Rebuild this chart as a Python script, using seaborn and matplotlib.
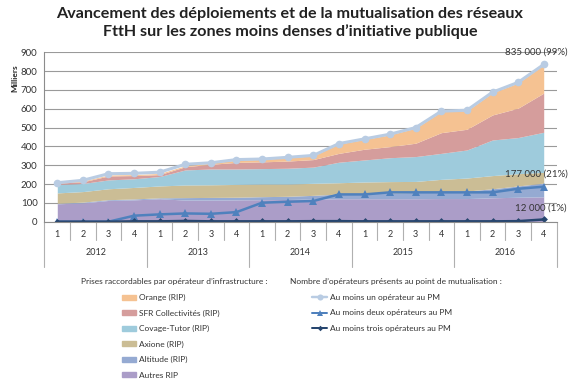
import numpy as np
import pandas as pd
import matplotlib
matplotlib.use('Agg')
import matplotlib.pyplot as plt
import matplotlib.transforms as mtransforms
from matplotlib.lines import Line2D
from matplotlib.patches import Patch
import seaborn as sns

# Données (milliers de prises)
annees = ['2012', '2013', '2014', '2015', '2016']
trimestres = ['1', '2', '3', '4'] * 5

autres_rip = [95, 100, 113, 116, 122, 115, 115, 116, 117, 118, 120, 122, 122, 122, 122, 123, 123, 127, 130, 132]
altitude = [3, 4, 4, 5, 5, 13, 14, 14, 16, 17, 20, 25, 28, 30, 33, 37, 40, 48, 60, 73]
axione = [55, 56, 58, 61, 63, 67, 67, 68, 67, 65, 64, 60, 61, 61, 59, 65, 69, 70, 65, 57]
covage = [45, 43, 47, 46, 50, 80, 84, 82, 82, 84, 86, 109, 117, 127, 132, 138, 149, 189, 192, 213]
sfr = [7, 9, 21, 17, 10, 17, 25, 35, 36, 38, 40, 47, 57, 59, 71, 110, 110, 133, 156, 208]
orange = [2, 4, 5, 5, 6, 5, 6, 12, 13, 18, 20, 50, 52, 63, 80, 112, 98, 118, 134, 150]

au_moins_un = [207, 220, 255, 257, 263, 305, 313, 330, 333, 342, 352, 415, 440, 465, 500, 587, 592, 688, 740, 835]
au_moins_deux = [0, 0, 0, 32, 39, 44, 42, 51, 101, 106, 110, 145, 145, 156, 156, 156, 156, 156, 175, 186]
au_moins_trois = [0, 0, 0, 2, 2, 4, 2, 2, 2, 2, 3, 3, 2, 2, 2, 2, 2, 2, 3, 12]

noms_aires = ['Autres RIP', 'Altitude (RIP)', 'Axione (RIP)', 'Covage-Tutor (RIP)',
              'SFR Collectivités (RIP)', 'Orange (RIP)']
couleurs_aires = ['#ab9dc8', '#95aad2', '#cbbd95', '#9ecbdc', '#d59d9c', '#f5c292']

df = pd.DataFrame({
    'x': np.arange(len(trimestres)),
    'un': au_moins_un,
    'deux': au_moins_deux,
    'trois': au_moins_trois,
})

sns.set_style('white')
plt.rcParams['font.family'] = ['Lato', 'DejaVu Sans']

fig = plt.figure(figsize=(5.8, 3.9), dpi=100)
ax = fig.add_axes([0.0767, 0.4315, 0.8828, 0.4345])

aires = ax.stackplot(df['x'], autres_rip, altitude, axione, covage, sfr, orange,
                     colors=couleurs_aires, labels=noms_aires, linewidth=0)

sns.lineplot(x='x', y='un', data=df, ax=ax, color='#b9cce3', marker='o', markersize=5.5,
             markeredgewidth=0, linewidth=2.2, label='Au moins un opérateur au PM')
sns.lineplot(x='x', y='deux', data=df, ax=ax, color='#4f81bd', marker='^', markersize=5.5,
             markeredgewidth=0, linewidth=1.8, label='Au moins deux opérateurs au PM')
sns.lineplot(x='x', y='trois', data=df, ax=ax, color='#27466f', marker='D', markersize=3.5,
             markeredgewidth=0, linewidth=1.8, label='Au moins trois opérateurs au PM')
ax.get_legend().remove()

ax.set_xlim(-0.5, 19.5)
ax.set_ylim(0, 900)
ax.set_yticks(range(0, 901, 100))
ax.yaxis.grid(True, color='#9a9a9a', linewidth=0.8)
ax.set_axisbelow(True)
for s in ['top', 'right']:
    ax.spines[s].set_visible(False)
ax.spines['left'].set_color('#8c8c8c')
ax.spines['bottom'].set_color('#8c8c8c')
ax.tick_params(axis='y', labelsize=7, colors='#333333', length=3, color='#8c8c8c', pad=2)
ax.set_xticks(df['x'])
ax.set_xticklabels(trimestres)
ax.tick_params(axis='x', labelsize=6.5, colors='#333333', length=0, pad=6)
ax.set_xlabel('')
ax.set_ylabel('')

# séparateurs de l'axe des catégories
trans = mtransforms.blended_transform_factory(ax.transData, ax.transAxes)
for k in range(21):
    xs = k - 0.5
    bas = -0.27 if k % 4 == 0 else -0.11
    ax.plot([xs, xs], [0, bas], transform=trans, color='#b0b0b0', linewidth=0.8, clip_on=False)
for j, an in enumerate(annees):
    ax.text(j * 4 + 1.5, -0.18, an, transform=trans, ha='center', va='center',
            fontsize=6.5, color='#333333')

fig.text(0.025, 0.80, 'Milliers', rotation=90, fontsize=6, fontweight='bold', ha='center', va='center')

# étiquettes de valeurs
ax.annotate('835 000 (99%)', (19, 835), xytext=(-5.5, 6), textcoords='offset points',
            ha='center', va='bottom', fontsize=7, color='#333333')
ax.annotate('177 000 (21%)', (19, 186), xytext=(-5.5, 6), textcoords='offset points',
            ha='center', va='bottom', fontsize=7, color='#333333')
ax.annotate('12 000 (1%)', (19, 12), xytext=(-2, 5), textcoords='offset points',
            ha='center', va='bottom', fontsize=7, color='#333333')

fig.text(0.5, 0.965, 'Avancement des déploiements et de la mutualisation des réseaux',
         ha='center', va='center', fontsize=11.6, fontweight='bold', color='#222222')
fig.text(0.5, 0.92, 'FttH sur les zones moins denses d\u2019initiative publique',
         ha='center', va='center', fontsize=11.6, fontweight='bold', color='#222222')

# légendes
fig.text(0.14, 0.277, 'Prises raccordables par opérateur d\u2019infrastructure :',
         fontsize=6, color='#333333', va='center')
fig.text(0.50, 0.277, 'Nombre d\u2019opérateurs présents au point de mutualisation :',
         fontsize=6, color='#333333', va='center')

h_aires = [Patch(color=c) for c in couleurs_aires][::-1]
leg1 = fig.legend(h_aires, noms_aires[::-1], loc='upper left', bbox_to_anchor=(0.198, 0.265),
                  frameon=False, fontsize=6, handlelength=1.6, handleheight=0.5,
                  labelspacing=1.0, handletextpad=0.4, labelcolor='#333333')
lignes = ax.get_lines()
h_lignes = [Line2D([0], [0], color=l.get_color(), marker=l.get_marker(), markersize=l.get_markersize() * 0.8,
                   linewidth=l.get_linewidth() * 0.8, markeredgewidth=0) for l in lignes[:3]]
leg2 = fig.legend(h_lignes, ['Au moins un opérateur au PM', 'Au moins deux opérateurs au PM',
                             'Au moins trois opérateurs au PM'],
                  loc='upper left', bbox_to_anchor=(0.525, 0.265), frameon=False, fontsize=6,
                  handlelength=1.8, labelspacing=1.0, handletextpad=0.3, labelcolor='#333333')

plt.savefig('out.png', dpi=100)
